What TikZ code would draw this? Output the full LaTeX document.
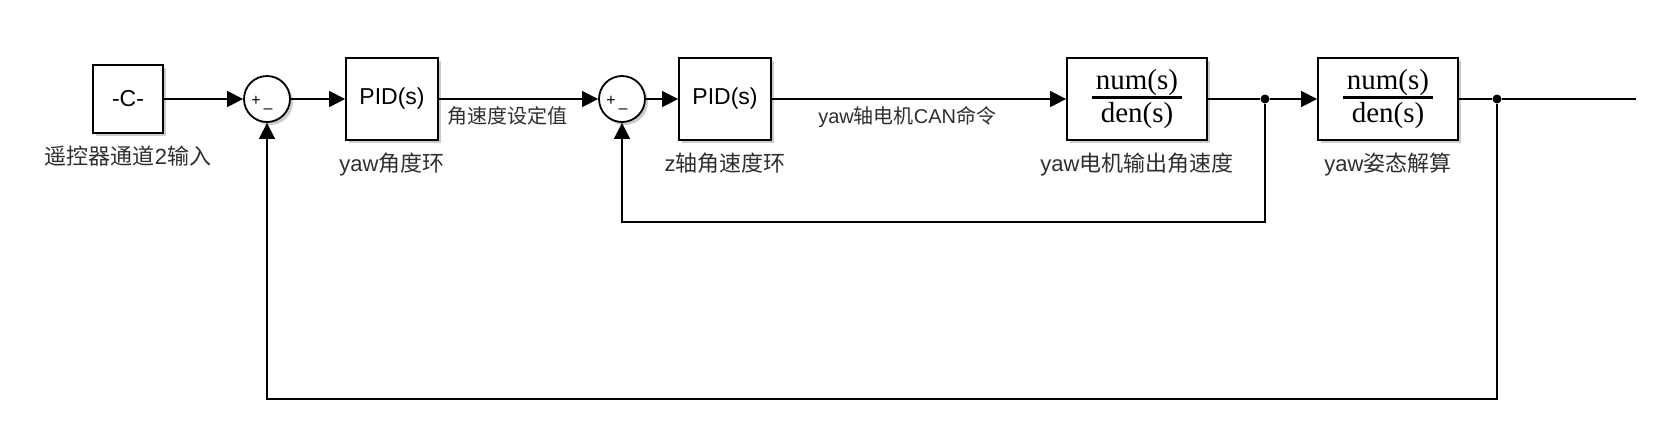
\documentclass[tikz,border=0pt]{standalone}
\usepackage{fontspec}
\setmainfont{Liberation Sans}
\newfontfamily\cjk{Noto Sans CJK SC}
\newfontfamily\tfserif{Liberation Serif}
\usepackage{tikz}
\usetikzlibrary{arrows.meta,shadows}
\definecolor{txtgray}{gray}{0.18}
\setlength{\arrayrulewidth}{1.1pt}
\newcommand{\numden}{{\tfserif\fontsize{14.5}{17}\selectfont
  \begin{tabular}{@{\hspace{2pt}}c@{\hspace{2pt}}}num(s)\\[-1.5pt]\hline den(s)\end{tabular}}}

\begin{document}
\begin{tikzpicture}[x=0.5pt,y=-0.5pt,
  shade/.style={drop shadow={shadow xshift=1.5pt,shadow yshift=-1.5pt,opacity=0.4}},
  blk/.style={draw,line width=0.9pt,fill=white,shade,inner sep=0pt,
    minimum width=46pt,minimum height=41pt,font=\fontsize{11.5}{13}\selectfont},
  tf/.style={blk,minimum width=70pt},
  sum/.style={draw,circle,line width=0.9pt,fill=white,shade,minimum size=23pt,inner sep=0pt},
  sgn/.style={inner sep=0pt,font=\fontsize{8}{8}\selectfont},
  dot/.style={circle,fill,inner sep=0pt,minimum size=4.5pt},
  lbl/.style={text=txtgray,yshift=-2.5pt,font=\fontsize{11}{13}\selectfont},
  elbl/.style={below,text=txtgray,font=\fontsize{10}{12}\selectfont},
  wire/.style={line width=0.7pt},
  sig/.style={wire,-{Triangle[length=8pt,width=8pt]}}]
       \useasboundingbox (0,0) rectangle (1671,447);
       % blocks
       \node[blk,minimum width=35pt,minimum height=34pt,
         label={[lbl]below:{\cjk 遥控器通道}2{\cjk 输入}}] (const) at (128,99) {-C-};
       \node[sum] (sum1) at (267,99) {};
       \node[sgn] (p1) at (256,101) {+};
       \node[sgn] (m1) at (268,111) {--};
       \node[blk,label={[lbl]below:yaw{\cjk 角度环}}] (pid1) at (392,99) {PID(s)};
       \node[sum] (sum2) at (622,99) {};
       \node[sgn] (p2) at (611,101) {+};
       \node[sgn] (m2) at (623,111) {--};
       \node[blk,label={[lbl]below:z{\cjk 轴角速度环}}] (pid2) at (725,99) {PID(s)};
       \node[tf,label={[lbl]below:yaw{\cjk 电机输出角速度}}] (tf1) at (1137,99) {\numden};
       \node[dot] (br1) at (1265,99) {};
       \node[tf,label={[lbl]below:yaw{\cjk 姿态解算}}] (tf2) at (1388,99) {\numden};
       \node[dot] (br2) at (1497,99) {};
       \coordinate (out) at (1636,99);
       \coordinate (fb1) at (1265,222);
       \coordinate (fb2) at (1497,399);
       % forward path
       \draw[sig] (const) -- (sum1);
       \draw[sig] (sum1) -- (pid1);
       \draw[sig] (pid1) -- node[elbl,pos=0.43]{\cjk 角速度设定值} (sum2);
       \draw[sig] (sum2) -- (pid2);
       \draw[sig] (pid2) -- node[elbl,pos=0.46]{yaw{\cjk 轴电机}CAN{\cjk 命令}} (tf1);
       \draw[wire] (tf1) -- (br1);
       \draw[sig] (br1) -- (tf2);
       \draw[wire] (tf2) -- (br2) -- (out);
       % feedback loops
       \draw[sig] (br1) -- (fb1) -| (sum2);
       \draw[sig] (br2) -- (fb2) -| (sum1);
\end{tikzpicture}
\end{document}
